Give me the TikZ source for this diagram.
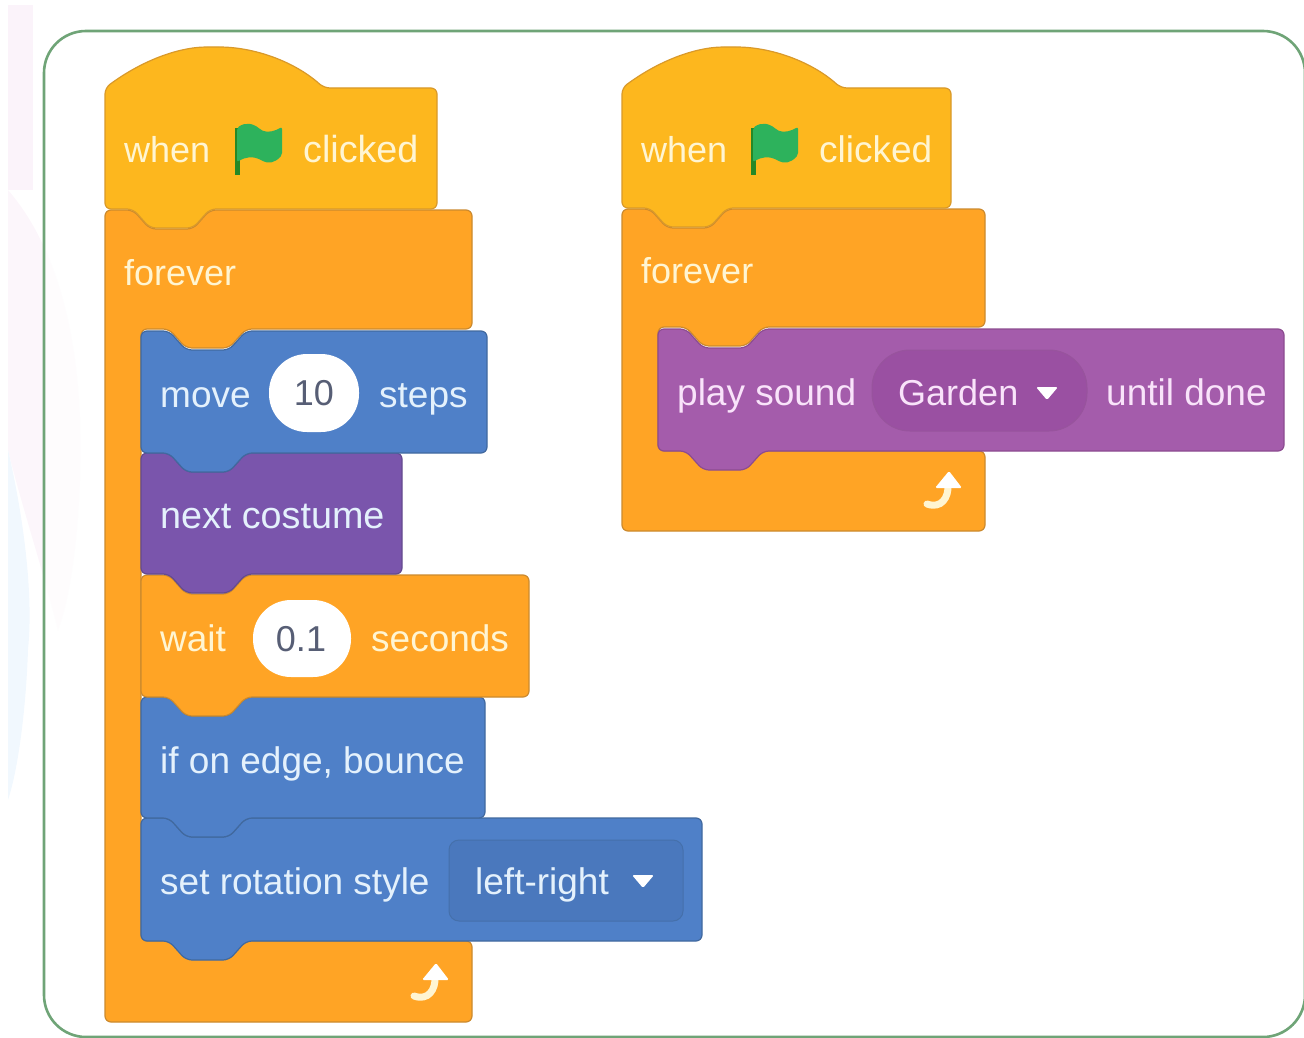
\documentclass[tikz,border=0pt]{standalone}
\usepackage{fontspec}
\setmainfont{Liberation Sans}
\definecolor{hatc}{HTML}{FDB71E}
\definecolor{hate}{HTML}{D9992A}
\definecolor{ctrl}{HTML}{FFA425}
\definecolor{ctrle}{HTML}{CC8A2E}
\definecolor{motion}{HTML}{4F80C8}
\definecolor{motione}{HTML}{41699F}
\definecolor{motiond}{HTML}{4A78BD}
\definecolor{looks}{HTML}{7A55AC}
\definecolor{lookse}{HTML}{654B8F}
\definecolor{sound}{HTML}{A45CAB}
\definecolor{sounde}{HTML}{8C4C90}
\definecolor{soundd}{HTML}{9A50A2}
\definecolor{frameg}{HTML}{6FA477}
\definecolor{txtY}{HTML}{FFF5D2}
\definecolor{txtB}{HTML}{E4F1FC}
\definecolor{txtP}{HTML}{F9E3FA}
\definecolor{ink}{HTML}{575E75}
\definecolor{palepink}{HTML}{FBF3FA}
\definecolor{palelens}{HTML}{FCF6FB}
\definecolor{paleblue}{HTML}{F1F8FE}
\tikzset{
  lbl/.style={anchor=base west,inner sep=0pt,font=\fontsize{37}{40}\selectfont},
  lblm/.style={anchor=base west,inner sep=0pt,font=\fontsize{36}{40}\selectfont},
  lbll/.style={anchor=base west,inner sep=0pt,font=\fontsize{37.7}{40}\selectfont},
  lblc/.style={anchor=base,inner sep=0pt,font=\fontsize{36}{40}\selectfont,text=ink},
  hatblk/.style={fill=hatc,draw=hate,line width=1.2pt,rounded corners=6pt},
  ctrlblk/.style={fill=ctrl,draw=ctrle,line width=1.2pt,rounded corners=6pt},
  motionblk/.style={fill=motion,draw=motione,line width=1.2pt,rounded corners=6pt},
  looksblk/.style={fill=looks,draw=lookse,line width=1.2pt,rounded corners=6pt},
  soundblk/.style={fill=sound,draw=sounde,line width=1.2pt,rounded corners=6pt},
  valfield/.style={fill=white,rounded corners=38pt},
}
% stack block: x0,y0,x1,y1,style
\newcommand\blk[5]{\path[#5] (#1,#2+30) -- (#1,#2) -- (#1+28,#2) -- (#1+45,#2+19) -- (#1+88,#2+19) -- (#1+105,#2) -- (#3,#2) -- (#3,#4) -- (#1+105,#4) -- (#1+88,#4+19) -- (#1+45,#4+19) -- (#1+28,#4) -- (#1,#4) -- cycle;}
% hat block: x0,x1,bottom
\newcommand\hatb[3]{\path[hatblk] (#1,120) -- (#1,88) .. controls (#1+35,62) and (#1+72,47) .. (#1+108,47) .. controls (#1+150,47) and (#1+190,62) .. (#1+219,88) -- (#2,88) -- (#2,#3) -- (#1+105,#3) -- (#1+88,#3+19) -- (#1+45,#3+19) -- (#1+28,#3) -- (#1,#3) -- cycle;}
% flag at x,y of pole top
\newcommand\flagic[2]{
  \fill[green!45!black!85] (#1,#2+3) rectangle (#1+5,#2+50);
  \fill[rounded corners=2pt,fill={rgb,255:red,45;green,178;blue,92}] (#1+2,#2+3) .. controls (#1+10,#2-3) and (#1+18,#2-2) .. (#1+26,#2+5) .. controls (#1+33,#2+8) and (#1+40,#2+6) .. (#1+47,#2+2) -- (#1+47,#2+30) .. controls (#1+40,#2+38) and (#1+33,#2+39) .. (#1+26,#2+35) .. controls (#1+18,#2+31) and (#1+10,#2+32) .. (#1+2,#2+37) -- cycle;}
% loop arrow, x,y = centre
\newcommand\loopic[2]{
  \draw[txtY,line width=7pt,line cap=round] (#1-16,#2+12) .. controls (#1-2,#2+17) and (#1+6,#2+6) .. (#1+5,#2-8);
  \fill[white,rounded corners=1.5pt] (#1-8,#2-4) -- (#1+6,#2-21) -- (#1+19,#2-4) -- cycle;}
\newcommand\tridown[3]{\fill[white,rounded corners=1.5pt] (#1-11,#2-6) -- (#1+11,#2-6) -- (#1,#2+7) -- cycle;}
\begin{document}
\begin{tikzpicture}[x=1pt,y=-1pt]
\useasboundingbox (0,0) rectangle (1304,1038);
\begin{scope}
  \clip (8,5) rectangle (120,1038);
  \fill[palepink] (8,5) rectangle (33,190);
  \fill[palelens] (8,190) .. controls (60,250) and (85,350) .. (80,480) .. controls (78,540) and (70,600) .. (58,630) .. controls (40,560) and (20,500) .. (8,450) -- cycle;
  \fill[paleblue] (8,450) .. controls (22,510) and (34,590) .. (28,650) .. controls (26,710) and (18,770) .. (8,800) -- cycle;
\end{scope}
\path[draw=frameg,line width=2.6pt,rounded corners=42pt,fill=white,fill opacity=0.75] (44,31) rectangle (1305,1037);

% left stack
\path[ctrlblk] (105,240) -- (105,210) -- (133,210) -- (150,229) -- (193,229) -- (210,210) -- (472,210) -- (472,329) -- (246,329) -- (229,348) -- (186,348) -- (169,329) -- (141,329) -- (141,941) -- (472,941) -- (472,1022) -- (105,1022) -- cycle;
\blk{141}{818}{702}{941}{motionblk}
\blk{141}{697}{485}{818}{motionblk}
\blk{141}{575}{529}{697}{ctrlblk}
\blk{141}{453}{402}{574}{looksblk}
\blk{141}{331}{487}{453}{motionblk}
\hatb{105}{437}{209}

\flagic{235}{125}
\node[lblm,text=txtY] (w1) at (124,163) {when};
\node[lbll,text=txtY] (c1) at (303,163) {clicked};
\node[lblm,text=txtY] (f1) at (124,285) {forever};
\node[lbl,text=txtB] (m1) at (160,407) {move};
\path[valfield] (269,354) rectangle (359,432);
\node[lblc] (m2) at (314,405) {10};
\node[lbl,text=txtB] (m3) at (379,407) {steps};
\node[lbll,text=txtB] (n1) at (160,528) {next costume};
\node[lbl,text=txtY] (t1) at (160,651) {wait};
\path[valfield] (253,600) rectangle (351,677);
\node[lblc] (t2) at (301,651) {0.1};
\node[lbl,text=txtY] (t3) at (371,651) {seconds};
\node[lbl,text=txtB] (e1) at (160,773) {if on edge, bounce};
\node[lbl,text=txtB] (r1) at (160,894) {set rotation style};
\path[fill=motiond,draw=motione!70!motion,line width=1pt,rounded corners=10pt] (449,840) rectangle (683,921);
\node[lbl,text=txtB] (r2) at (475,894) {left-right};
\tridown{643}{881}{}
\loopic{430}{984}

% right stack
\path[ctrlblk] (622,240) -- (622,209) -- (650,209) -- (667,228) -- (710,228) -- (727,209) -- (985,209) -- (985,327) -- (763,327) -- (746,346) -- (703,346) -- (686,327) -- (658,327) -- (658,451) -- (985,451) -- (985,531) -- (622,531) -- cycle;
\blk{658}{329}{1284}{451}{soundblk}
\hatb{622}{951}{208}

\flagic{751}{125}
\node[lblm,text=txtY] (w2) at (641,163) {when};
\node[lbl,text=txtY] (c2) at (819,163) {clicked};
\node[lblm,text=txtY] (f2) at (641,283) {forever};
\node[lbl,text=txtP] (s1) at (677,405) {play sound};
\path[fill=soundd,draw=sounde!50!sound,line width=1pt,rounded corners=38pt] (872,350) rectangle (1087,431);
\node[lblm,text=txtP] (s2) at (898,405) {Garden};
\tridown{1047}{393}{}
\node[lbl,text=txtP] (s3) at (1106,405) {until done};
\loopic{943}{492}
\end{tikzpicture}
\end{document}
